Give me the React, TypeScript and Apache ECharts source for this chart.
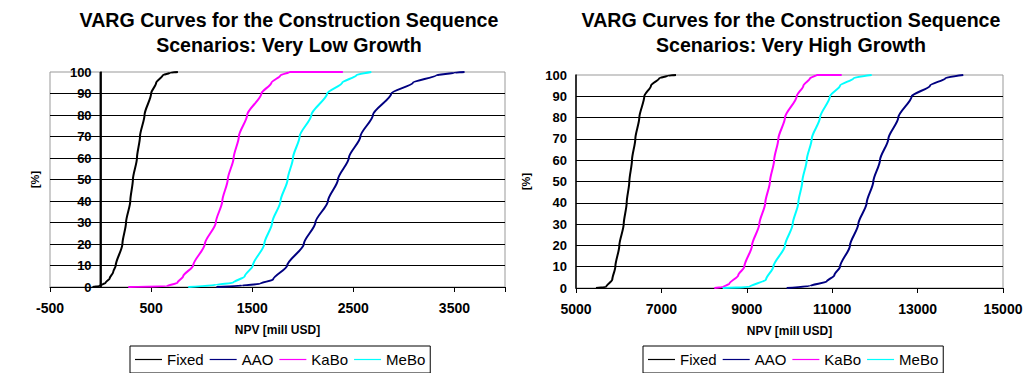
import React, { useEffect, useRef } from "react";
import * as echarts from "echarts";

const FONT = "'Liberation Sans', Arial, sans-serif";

const seriesNames = ["Fixed", "AAO", "KaBo", "MeBo"];
const seriesColors = ["#000000", "#000080", "#FF00FF", "#00FFFF"];

const titleLow = "VARG Curves for the Construction Sequence\nScenarios: Very Low Growth";
const titleHigh = "VARG Curves for the Construction Sequence\nScenarios: Very High Growth";
const xName = "NPV [mill USD]";
const yName = "[%]";

const lowTicks = [-500, 500, 1500, 2500, 3500];
const highTicks = [5000, 7000, 9000, 11000, 13000, 15000];
// the value axis of the left chart crosses at NPV = 0, spanning 0..100 %
const lowAxisCross = [[0, 0], [0, 100]];

// [NPV, cumulative %]
const lowFixed = [[-80,0],[-10,0.5],[50,2],[90,4],[125,7],[150,10],[216,20],[252,30],[294,40],[320,50],[360,60],[390,70],[435,80],[500,90],[550,95],[615,98.5],[690,99.7],[765,100]];
const lowAAO = [[1146,0],[1400,0.7],[1574,1.5],[1706,3.5],[1846,10],[2010,20],[2125,30],[2249,40],[2348,50],[2455,60],[2570,70],[2694,80],[2875,90],[3089,95],[3320,98.5],[3500,99.7],[3600,100]];
const lowKaBo = [[274,0],[653,0.3],[760,2],[817,5],[916,10],[1031,20],[1140,30],[1204,40],[1258,50],[1316,60],[1368,70],[1450,80],[1591,90],[1690,95],[1780,98.5],[1870,100],[2397,100]];
const lowMeBo = [[867,0],[1146,1],[1311,2],[1426,5],[1506,10],[1619,20],[1698,30],[1780,40],[1850,50],[1903,60],[1969,70],[2085,80],[2241,90],[2390,95],[2530,98.5],[2678,100]];

const highFixed = [[5468,0],[5703,0.5],[5850,4],[5921,10],[6015,20],[6117,30],[6187,40],[6249,50],[6311,60],[6389,70],[6483,80],[6600,90],[6756,95],[6950,98.5],[7150,99.7],[7342,100]];
const highAAO = [[9934,0],[10480,1],[10871,3],[11050,6],[11183,10],[11417,20],[11611,30],[11808,40],[11963,50],[12119,60],[12314,70],[12548,80],[12862,90],[13290,95],[13650,98.5],[14070,100]];
const highKaBo = [[8239,0],[8450,0.5],[8590,2],[8800,6],[8942,10],[9122,20],[9293,30],[9433,40],[9543,50],[9640,60],[9738,70],[9895,80],[10169,90],[10325,95],[10480,98.5],[10637,100],[11222,100]];
const highMeBo = [[8435,0],[9059,0.5],[9450,4],[9621,10],[9895,20],[10075,30],[10206,40],[10300,50],[10403,60],[10520,70],[10714,80],[10948,90],[11183,95],[11500,98.5],[11925,100]];

const lowData = [lowFixed, lowAAO, lowKaBo, lowMeBo];
const highData = [highFixed, highAAO, highKaBo, highMeBo];

function makeTitle(text: string, left: number) {
  return {
    text, left, top: 7, padding: 0, textAlign: "center",
    textStyle: { fontFamily: FONT, fontWeight: "bold", fontSize: 19.6, lineHeight: 25, color: "#000" },
  };
}

function makeX(grid: number, min: number, max: number, labels: number[], ticks: number[]) {
  return {
    type: "value", gridIndex: grid, min, max,
    axisLine: { show: true, onZero: false, lineStyle: { color: "#000", width: 1 } },
    axisTick: { show: true, length: 5, customValues: ticks, lineStyle: { color: "#000" } },
    axisLabel: { customValues: labels, formatter: (v: number) => String(v), fontFamily: FONT, fontWeight: "bold", fontSize: 14, color: "#000", margin: 14 },
    splitLine: { show: false },
    name: xName, nameLocation: "middle", nameGap: 37,
    nameTextStyle: { fontFamily: FONT, fontWeight: "bold", fontSize: 12, color: "#000" },
  };
}

// offset: negative value shifts the left axis labels inward to where the axis crosses (x = 0)
function makeY(grid: number, offset: number, nameGap: number) {
  return {
    type: "value", gridIndex: grid, min: 0, max: 100, interval: 10, offset,
    axisLine: { show: true, onZero: false, lineStyle: { color: "#000", width: 1.5 } },
    axisTick: { show: false },
    axisLabel: { fontFamily: FONT, fontWeight: "bold", fontSize: 13, color: "#000", margin: 9 },
    splitLine: { show: true, showMaxLine: false, showMinLine: false, lineStyle: { color: "#000", width: 1 } },
    name: yName, nameLocation: "middle", nameGap, nameRotate: 90,
    nameTextStyle: { fontFamily: FONT, fontWeight: "bold", fontSize: 11, color: "#000" },
  };
}

function makeLegend(left: number) {
  return {
    left, top: 346, orient: "horizontal", padding: [5, 5], borderColor: "#000", borderWidth: 1,
    icon: "rect", itemWidth: 27, itemHeight: 1.2, itemGap: 6,
    textStyle: { fontFamily: FONT, fontSize: 15, color: "#000", lineHeight: 17 },
    data: seriesNames,
  };
}

export default function App() {
  const ref = useRef<HTMLDivElement>(null);
  useEffect(() => {
    if (!ref.current) return;
    const chart = echarts.init(ref.current, null, { renderer: "svg" });
    const series: any[] = [
      { type: "line", name: "axis", xAxisIndex: 0, yAxisIndex: 0, data: lowAxisCross, symbol: "none", silent: true, lineStyle: { color: "#000", width: 2 }, z: 5 },
    ];
    [lowData, highData].forEach((set, gi) => {
      set.forEach((d, i) => {
        series.push({
          type: "line", name: seriesNames[i], xAxisIndex: gi, yAxisIndex: gi, data: d, symbol: "none",
          smooth: 0.25, smoothMonotone: "y", lineStyle: { color: seriesColors[i], width: 2 }, itemStyle: { color: seriesColors[i] }, z: 3,
        });
      });
    });
    chart.setOption({
      animation: false,
      backgroundColor: "#fff",
      title: [makeTitle(titleLow, 289), makeTitle(titleHigh, 791)],
      grid: [
        { left: 50, top: 72, width: 455, height: 215, show: true, borderColor: "#999", borderWidth: 1, backgroundColor: "transparent", outerBoundsMode: "none" },
        { left: 576, top: 75, width: 427, height: 213, show: true, borderColor: "#999", borderWidth: 1, backgroundColor: "transparent", outerBoundsMode: "none" },
      ],
      xAxis: [makeX(0, -500, 4000, lowTicks, [...lowTicks, 4000]), makeX(1, 5000, 15000, highTicks, highTicks)],
      yAxis: [makeY(0, -50.6, 60), makeY(1, 0, 45)],
      legend: [makeLegend(130), makeLegend(643)],
      series,
    });
    return () => chart.dispose();
  }, []);
  return <div ref={ref} style={{ position: "absolute", left: 0, top: 0, width: 1026, height: 373 }} />;
}
